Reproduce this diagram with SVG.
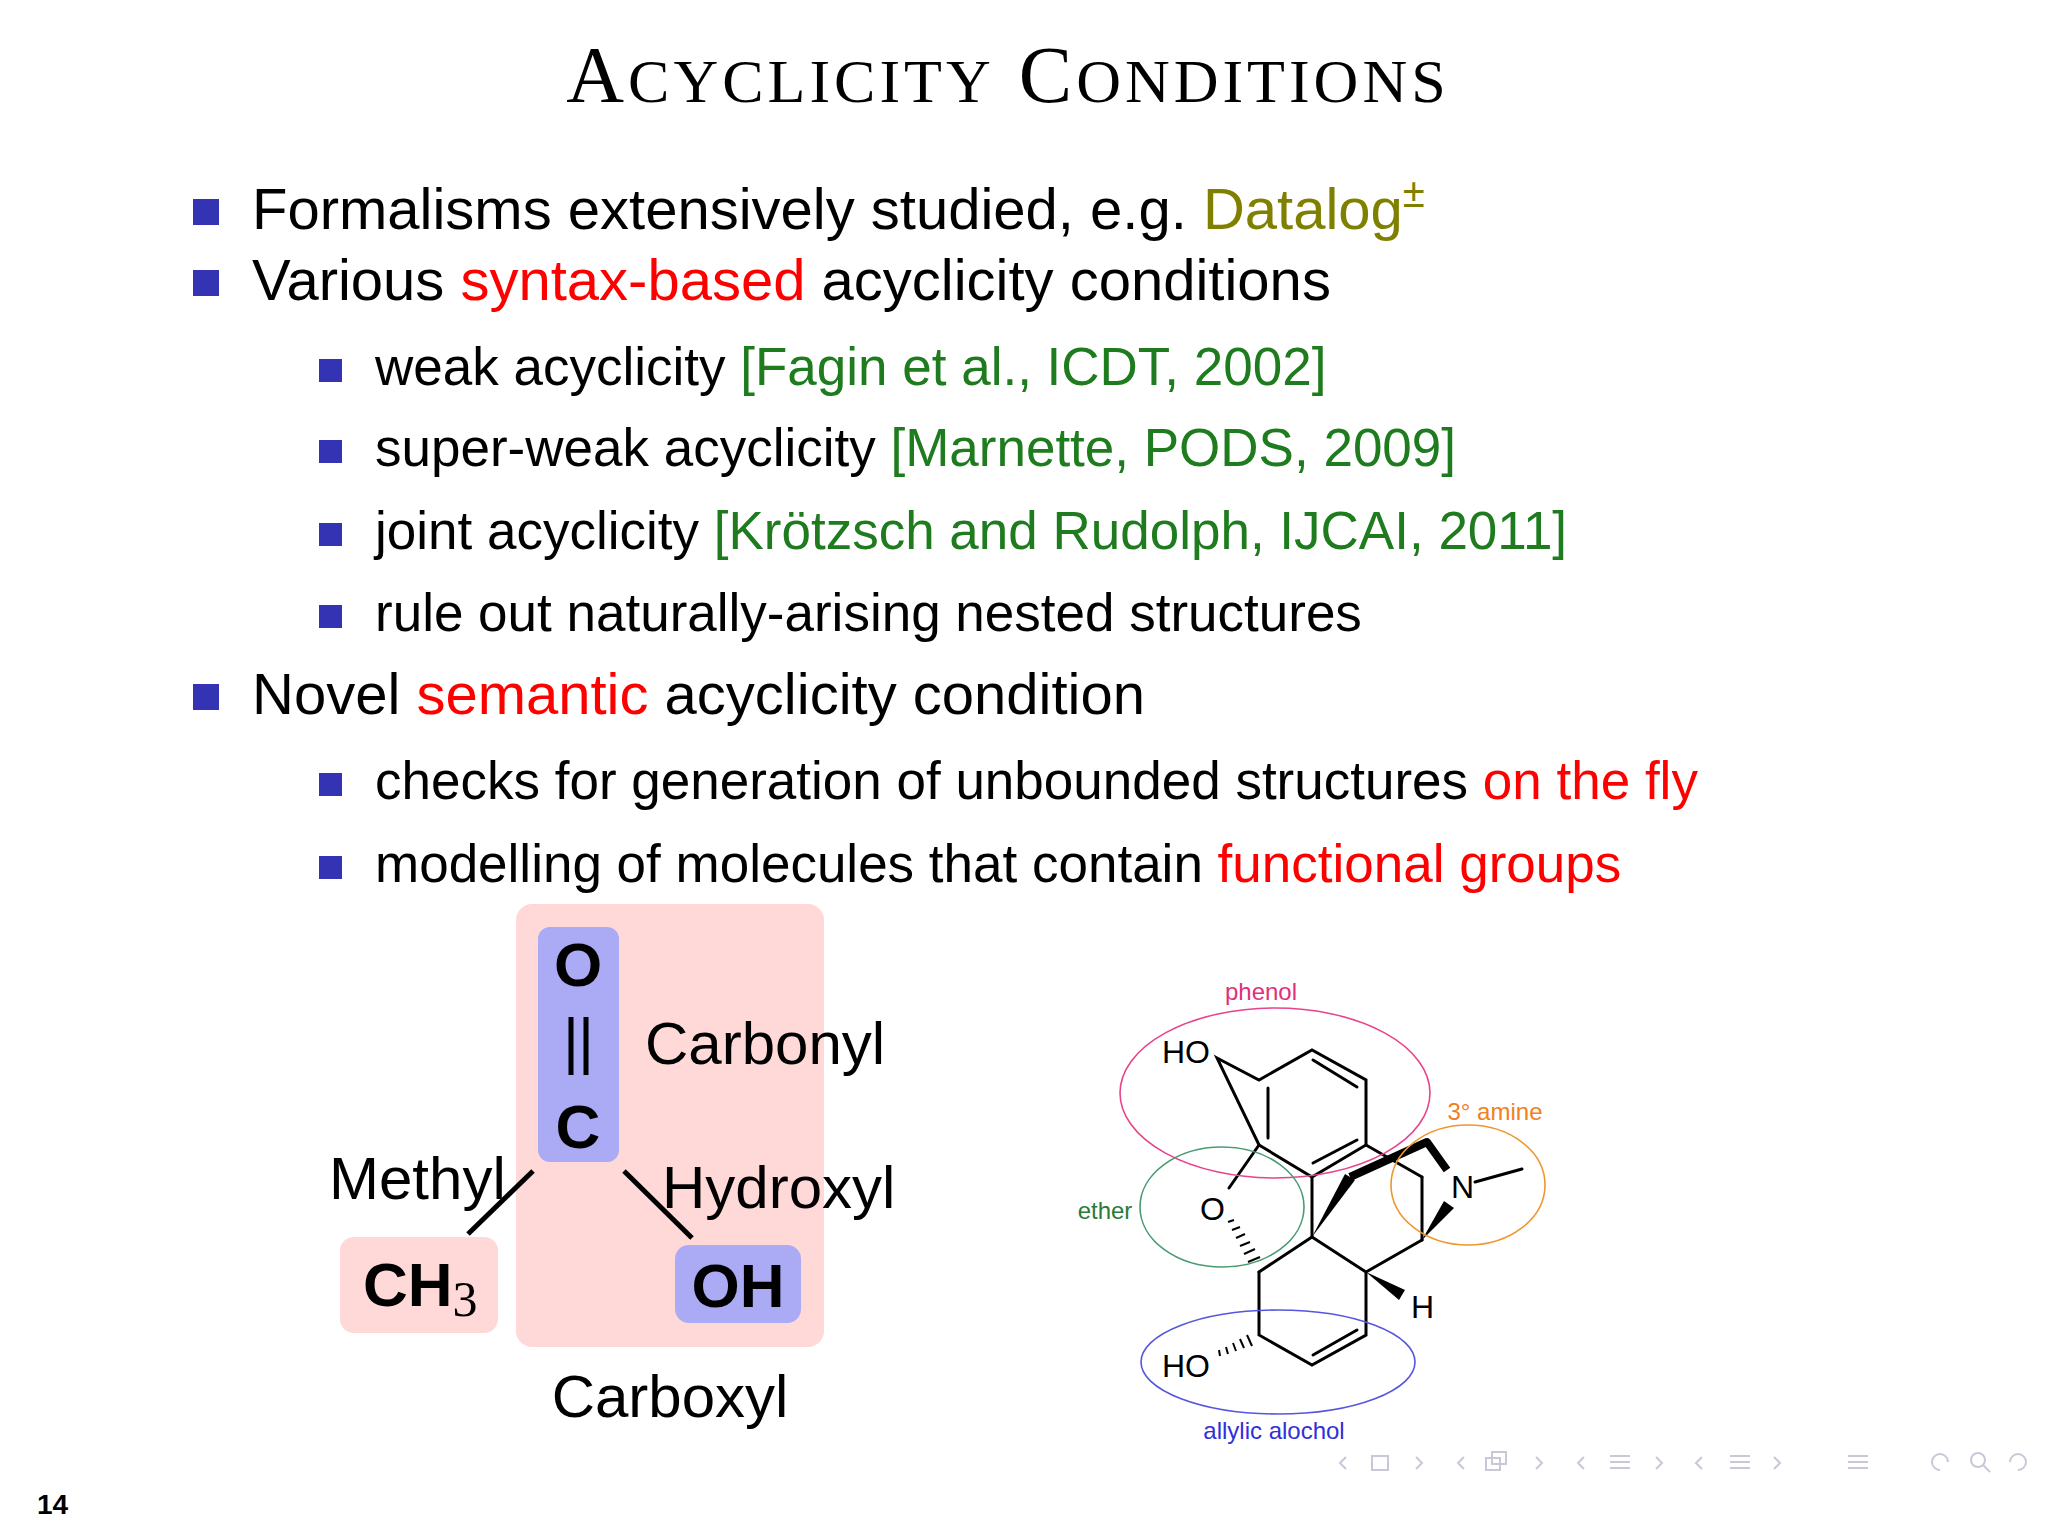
<svg xmlns="http://www.w3.org/2000/svg" width="2048" height="1536" viewBox="0 0 2048 1536">
<style>
.s{font-family:"Liberation Sans",Arial,sans-serif}
.t1{font-size:58px;fill:#000}
.t2{font-size:53px;fill:#000}
.r{fill:#ff0000}.g{fill:#1e7b1e}.o{fill:#808000}
.b{fill:#3333b3}
.bd{stroke:#000;stroke-width:3;fill:none;stroke-linecap:round}
.nav{fill:none;stroke:#c8c8d8;stroke-width:2}
</style>
<rect width="2048" height="1536" fill="#fff"/>
<text x="1008" y="102" text-anchor="middle" font-family="Liberation Serif,serif" font-size="80" letter-spacing="4">A<tspan font-size="62">CYCLICITY</tspan> C<tspan font-size="62">ONDITIONS</tspan></text>
<g id="bullets">
<rect class="b" x="193" y="199" width="26" height="26"/>
<rect class="b" x="193" y="270" width="26" height="26"/>
<rect class="b" x="193" y="684" width="26" height="26"/>
<rect class="b" x="319" y="359" width="23" height="23"/>
<rect class="b" x="319" y="440" width="23" height="23"/>
<rect class="b" x="319" y="523" width="23" height="23"/>
<rect class="b" x="319" y="605" width="23" height="23"/>
<rect class="b" x="319" y="773" width="23" height="23"/>
<rect class="b" x="319" y="856" width="23" height="23"/>
</g>
<g id="text" class="s">
<text class="t1" x="252" y="229">Formalisms extensively studied, e.g. <tspan class="o">Datalog</tspan><tspan class="o" font-size="40" dy="-22">±</tspan></text>
<text class="t1" x="252" y="300">Various <tspan class="r">syntax-based</tspan> acyclicity conditions</text>
<text class="t2" x="375" y="385">weak acyclicity <tspan class="g">[Fagin et al., ICDT, 2002]</tspan></text>
<text class="t2" x="375" y="466">super-weak acyclicity <tspan class="g">[Marnette, PODS, 2009]</tspan></text>
<text class="t2" x="375" y="549">joint acyclicity <tspan class="g">[Krötzsch and Rudolph, IJCAI, 2011]</tspan></text>
<text class="t2" x="375" y="631">rule out naturally-arising nested structures</text>
<text class="t1" x="252" y="714">Novel <tspan class="r">semantic</tspan> acyclicity condition</text>
<text class="t2" x="375" y="799">checks for generation of unbounded structures <tspan class="r">on the fly</tspan></text>
<text class="t2" x="375" y="882">modelling of molecules that contain <tspan class="r">functional groups</tspan></text>
</g>
<g id="carboxyl" class="s">
<rect x="516" y="904" width="308" height="443" rx="16" fill="#ffd8d8"/>
<rect x="538" y="927" width="81" height="235" rx="12" fill="#aaaaf5"/>
<text x="578" y="986" text-anchor="middle" font-size="62" font-weight="bold">O</text>
<line x1="571" y1="1017" x2="571" y2="1075" stroke="#000" stroke-width="5"/>
<line x1="586" y1="1017" x2="586" y2="1075" stroke="#000" stroke-width="5"/>
<text x="578" y="1148" text-anchor="middle" font-size="62" font-weight="bold">C</text>
<text x="645" y="1064" font-size="60">Carbonyl</text>
<text x="670" y="1417" text-anchor="middle" font-size="60">Carboxyl</text>
</g>
<g id="methyl" class="s">
<rect x="340" y="1237" width="158" height="96" rx="14" fill="#ffd8d8"/>
<text x="363" y="1306" font-size="62" font-weight="bold">CH<tspan font-family="Liberation Serif,serif" font-weight="normal" font-size="50" dy="10">3</tspan></text>
<text x="329" y="1199" font-size="60">Methyl</text>
</g>
<g id="hydroxyl" class="s">
<rect x="675" y="1245" width="126" height="78" rx="14" fill="#aaaaf5"/>
<text x="738" y="1307" text-anchor="middle" font-size="62" font-weight="bold">OH</text>
<text x="662" y="1208" font-size="60">Hydroxyl</text>
</g>
<g id="connectors">
<line x1="533" y1="1171" x2="468" y2="1234" stroke="#000" stroke-width="5"/>
<line x1="624" y1="1171" x2="692" y2="1238" stroke="#000" stroke-width="5"/>
</g>
<g id="molecule">
<g class="bd">
<path d="M1217 1058 L1259 1080 L1312 1050 L1366 1080 L1366 1145 L1312 1177 L1259 1145 Z"/>
<line x1="1313" y1="1060" x2="1357" y2="1087"/>
<line x1="1268" y1="1088" x2="1268" y2="1138"/>
<line x1="1357" y1="1140" x2="1313" y2="1163"/>
<line x1="1259" y1="1145" x2="1229" y2="1188"/>
<line x1="1312" y1="1177" x2="1312" y2="1237"/>
<line x1="1312" y1="1237" x2="1259" y2="1272"/>
<path d="M1259 1272 L1259 1335 L1312 1365 L1366 1335 L1366 1272 L1312 1237"/>
<line x1="1313" y1="1355" x2="1357" y2="1330"/>
<line x1="1366" y1="1272" x2="1422" y2="1240"/>
<line x1="1422" y1="1240" x2="1422" y2="1177"/>
<line x1="1366" y1="1145" x2="1422" y2="1177"/>
<line x1="1475" y1="1182" x2="1522" y2="1169"/>
</g>
<g stroke="#000" stroke-width="2">
<line x1="1228" y1="1222" x2="1234" y2="1220"/><line x1="1232" y1="1230" x2="1240" y2="1227"/><line x1="1236" y1="1238" x2="1245" y2="1234"/><line x1="1240" y1="1246" x2="1250" y2="1242"/><line x1="1244" y1="1254" x2="1255" y2="1249"/><line x1="1248" y1="1262" x2="1260" y2="1257"/>
<line x1="1220" y1="1356" x2="1219" y2="1350"/><line x1="1228" y1="1354" x2="1226" y2="1347"/><line x1="1236" y1="1351" x2="1233" y2="1343"/><line x1="1244" y1="1348" x2="1240" y2="1339"/><line x1="1252" y1="1346" x2="1247" y2="1335"/>
</g>
<path d="M1312 1237 L1345 1174 L1355 1180 Z"/>
<path d="M1350 1177 L1427 1142 L1447 1170" fill="none" stroke="#000" stroke-width="8" stroke-linejoin="round"/>
<path d="M1366 1272 L1405 1290 L1399 1300 Z"/>
<path d="M1422 1240 L1444 1201 L1454 1208 Z"/>
<g class="s" font-size="32">
<text x="1162" y="1063">HO</text>
<text x="1200" y="1220">O</text>
<text x="1451" y="1198">N</text>
<text x="1411" y="1318">H</text>
<text x="1162" y="1377">HO</text>
</g>
<g fill="none" stroke-width="1.6">
<ellipse cx="1275" cy="1093" rx="155" ry="85" stroke="#e8448a"/>
<ellipse cx="1222" cy="1207" rx="82" ry="60" stroke="#4a9a72"/>
<ellipse cx="1468" cy="1185" rx="77" ry="60" stroke="#f0962e"/>
<ellipse cx="1278" cy="1362" rx="137" ry="52" stroke="#5555e0"/>
</g>
<g class="s" font-size="24">
<text x="1261" y="1000" text-anchor="middle" fill="#e0307a">phenol</text>
<text x="1495" y="1120" text-anchor="middle" fill="#f08020">3° amine</text>
<text x="1105" y="1219" text-anchor="middle" fill="#2a7a3a">ether</text>
<text x="1274" y="1439" text-anchor="middle" fill="#3030d8">allylic alochol</text>
</g>
</g>
<text x="37" y="1514" class="s" font-size="28" font-weight="bold">14</text>
<g id="nav" class="nav">
<path d="M1346 1457 L1340 1463 L1346 1469"/><rect x="1372" y="1456" width="16" height="14"/><path d="M1416 1457 L1422 1463 L1416 1469"/>
<path d="M1464 1457 L1458 1463 L1464 1469"/><rect x="1486" y="1458" width="14" height="12"/><rect x="1492" y="1452" width="14" height="12"/><path d="M1536 1457 L1542 1463 L1536 1469"/>
<path d="M1584 1457 L1578 1463 L1584 1469"/><path d="M1610 1456 H1630 M1610 1462 H1630 M1610 1468 H1630"/><path d="M1656 1457 L1662 1463 L1656 1469"/>
<path d="M1702 1457 L1696 1463 L1702 1469"/><path d="M1730 1456 H1750 M1730 1462 H1750 M1730 1468 H1750"/><path d="M1774 1457 L1780 1463 L1774 1469"/>
<path d="M1848 1456 H1868 M1848 1462 H1868 M1848 1468 H1868"/>
<path d="M1940 1470 A8 8 0 1 1 1948 1462"/><circle cx="1978" cy="1460" r="7"/><line x1="1983" y1="1465" x2="1990" y2="1472"/><path d="M2018 1470 A8 8 0 1 0 2010 1462"/>
</g>
</svg>
